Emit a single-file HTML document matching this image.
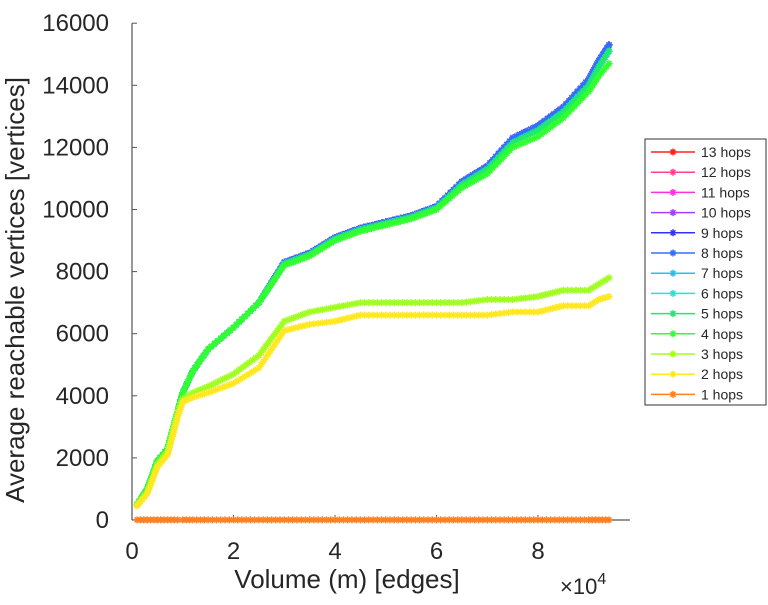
<!DOCTYPE html>
<html><head><meta charset="utf-8"><style>
body{margin:0;background:#fff;}
svg text{font-family:"Liberation Sans",sans-serif;fill:#262626;}
</style></head><body>
<svg id="c" width="768" height="600" xmlns="http://www.w3.org/2000/svg"></svg>
<script>
const xs = [0.1,0.3,0.5,0.7,0.9,1.0,1.2,1.5,2.0,2.5,3.0,3.5,4.0,4.5,5.0,5.5,6.0,6.5,7.0,7.5,8.0,8.5,9.0,9.2,9.4];
const hopsHigh = [500,1000,1900,2300,3500,4100,4800,5500,6200,7000,8300,8600,9100,9400,9600,9800,10100,10900,11400,12300,12700,13300,14200,14800,15300];
const hopsMid  = [500,1000,1900,2300,3500,4100,4800,5500,6200,7000,8250,8550,9050,9350,9550,9750,10050,10800,11300,12150,12550,13150,14000,14600,15100];
const hopsLow  = [500,1000,1900,2300,3500,4100,4800,5500,6200,7000,8200,8500,9000,9300,9500,9700,10000,10700,11150,12000,12350,12950,13800,14300,14700];
const hops3 = [500,900,1800,2200,3500,3900,4100,4300,4700,5300,6400,6700,6850,7000,7000,7000,7000,7000,7100,7100,7200,7400,7400,7600,7800];
const hops2 = [450,850,1700,2100,3300,3800,3950,4100,4400,4900,6100,6300,6400,6600,6600,6600,6600,6600,6600,6700,6700,6900,6900,7100,7200];
const hops1 = [5,5,5,5,5,5,5,5,5,5,5,5,5,5,5,5,5,5,5,5,5,5,5,5,5];
const yTicks = [0,2000,4000,6000,8000,10000,12000,14000,16000];
const xTicks = [0,2,4,6,8];
const seriesNames = ['13 hops','12 hops','11 hops','10 hops','9 hops','8 hops','7 hops','6 hops','5 hops','4 hops','3 hops','2 hops','1 hops'];
const seriesColors = ['#ff2020','#ff4090','#ff30e0','#a040ff','#3030ff','#3070ff','#20c0ff','#20e8d0','#20e870','#30ff30','#a0ff20','#ffe820','#ff8020'];
const seriesData = [hopsHigh,hopsHigh,hopsHigh,hopsHigh,hopsHigh,hopsHigh,hopsMid,hopsMid,hopsMid,hopsLow,hops3,hops2,hops1];

const svg = document.getElementById('c');
const NS='http://www.w3.org/2000/svg';
const X0=132, XR=101.5/2, Y0=520, YR=62.1/2000;
function sx(v){return X0+v*XR;}
function sy(v){return Y0-v*YR;}
function mk(tag,attrs,parent){const e=document.createElementNS(NS,tag);for(const k in attrs)e.setAttribute(k,attrs[k]);(parent||svg).appendChild(e);return e;}

const axes=mk('g',{});


mk('line',{x1:X0,y1:sy(16000),x2:X0,y2:Y0,stroke:'#555','stroke-width':1.2},axes);
mk('line',{x1:X0,y1:Y0,x2:630,y2:Y0,stroke:'#555','stroke-width':1.2},axes);
yTicks.forEach(t=>{
  mk('line',{x1:X0,y1:sy(t),x2:X0+5,y2:sy(t),stroke:'#555'},axes);
  const tx=mk('text',{x:X0-23,y:sy(t)+8,'text-anchor':'end','font-size':24},axes);
  
  
  tx.textContent=t;
});
xTicks.forEach(t=>{
  mk('line',{x1:sx(t),y1:Y0,x2:sx(t),y2:Y0-5,stroke:'#555'},axes);
  const tx=mk('text',{x:sx(t),y:559,'text-anchor':'middle','font-size':24},axes);
  
  
  tx.textContent=t;
});
const yt=mk('text',{x:0,y:0,transform:'translate(24,290) rotate(-90)','text-anchor':'middle','font-size':26});


yt.textContent='Average reachable vertices [vertices]';
const xt=mk('text',{x:347,y:588,'text-anchor':'middle','font-size':26});


xt.textContent='Volume (m) [edges]';
const ex=mk('text',{x:560,y:594,'font-size':22});


ex.innerHTML='×10<tspan dy="-10" font-size="16">4</tspan>';

function star(g,x,y,c,s){
  mk('path',{d:`M${x-s} ${y}H${x+s}M${x} ${y-s}V${y+s}M${x-s*0.7} ${y-s*0.7}L${x+s*0.7} ${y+s*0.7}M${x-s*0.7} ${y+s*0.7}L${x+s*0.7} ${y-s*0.7}`,stroke:c,'stroke-width':1.5,fill:'none'},g);
}
// 13 hops first, lower hops drawn on top
for(let i=0;i<seriesNames.length;i++){
  const g=mk('g',{});
  
  
  const d=seriesData[i];
  const pts=xs.map((x,j)=>[sx(x),sy(d[j])]);
  mk('polyline',{points:pts.map(p=>p.join(',')).join(' '),fill:'none',stroke:seriesColors[i],'stroke-width':1.5},g);
  for(let j=0;j<pts.length-1;j++){
    const [ax,ay]=pts[j],[bx,by]=pts[j+1];
    const n=Math.max(1,Math.round(Math.hypot(bx-ax,by-ay)/4));
    for(let k=0;k<n;k++){star(g,ax+(bx-ax)*k/n,ay+(by-ay)*k/n,seriesColors[i],3.5);}
  }
  star(g,pts[pts.length-1][0],pts[pts.length-1][1],seriesColors[i],3.5);
}
const lg=mk('g',{});


mk('rect',{x:645,y:139,width:121,height:266,fill:'#fff',stroke:'#333','stroke-width':1},lg);
seriesNames.forEach((n,i)=>{
  const y=152+i*20.2;
  const e=mk('g',{},lg);
  
  
  mk('line',{x1:651,y1:y,x2:695,y2:y,stroke:seriesColors[i],'stroke-width':1.5},e);
  star(e,673,y,seriesColors[i],3.5);
  const t=mk('text',{x:701,y:y+5,'font-size':14},e);
  t.textContent=n;
});
</script>
</body></html>
